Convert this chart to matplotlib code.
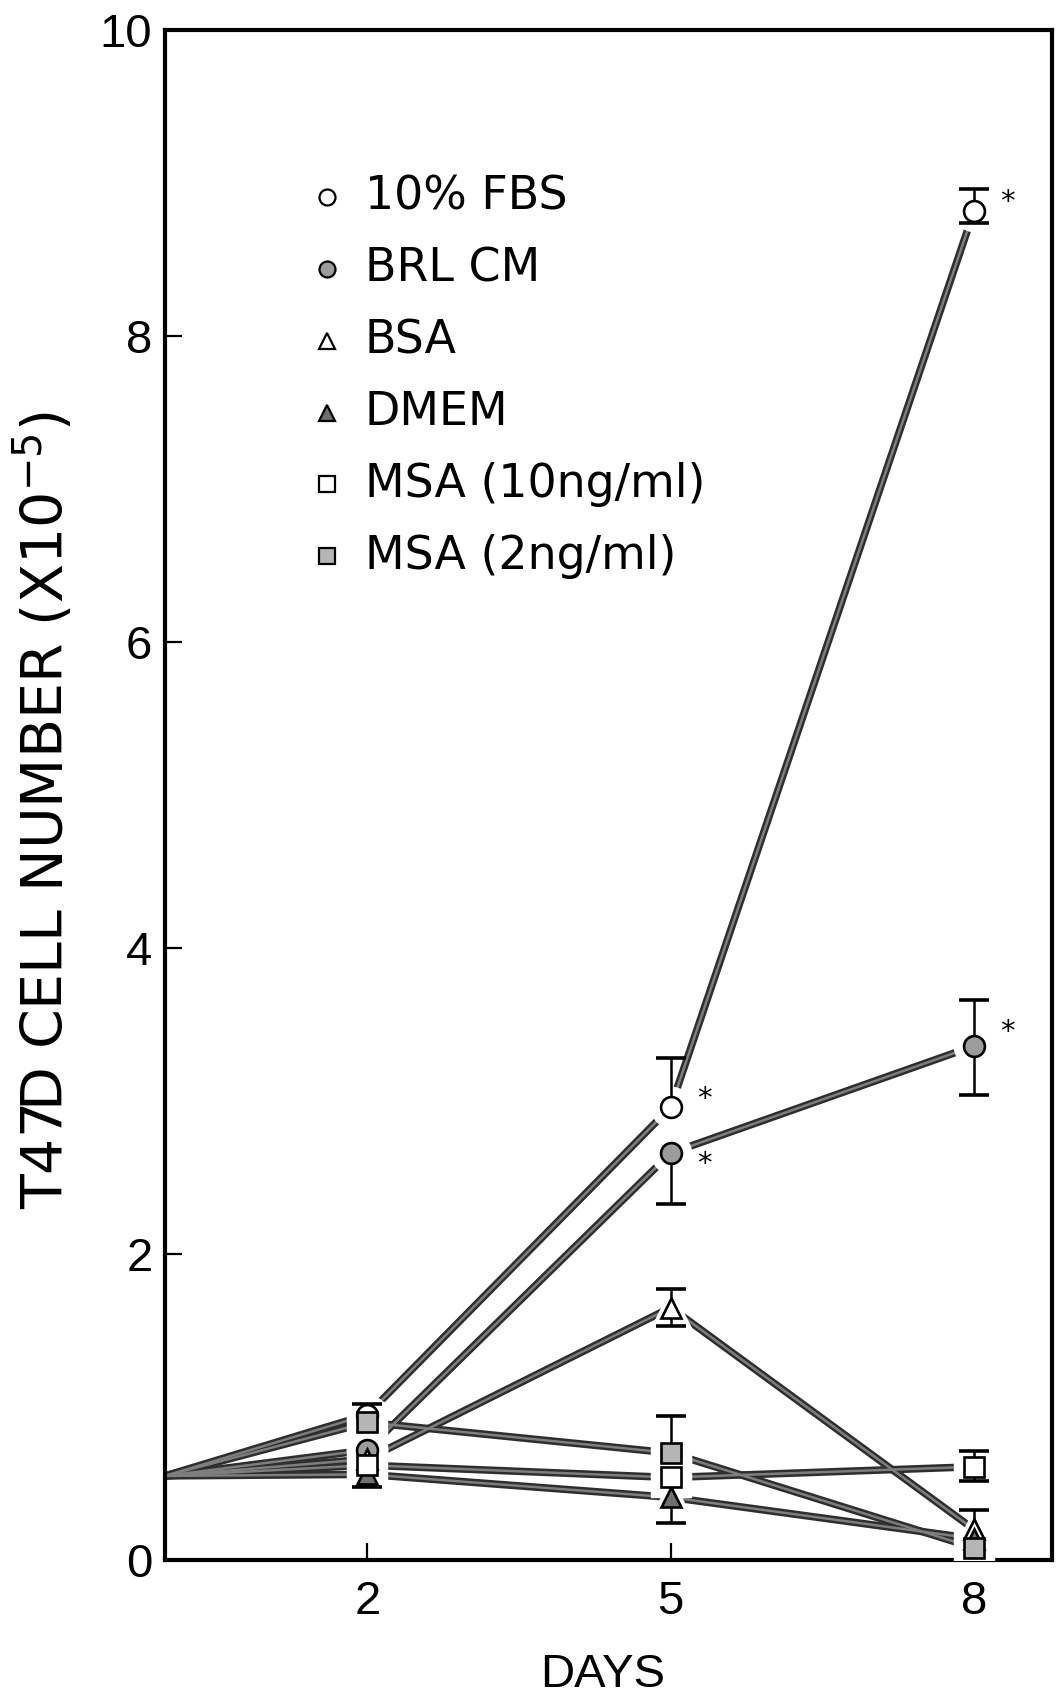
import numpy as np
import matplotlib
matplotlib.use("Agg")
import matplotlib.pyplot as plt

# ---- data: T47D cell number (x10^-5) over time -----------------------------
days = [2, 5, 8]
start_day = 0
start_count = 0.55          # common seeding density at day 0

labels = ["10% FBS", "BRL CM", "BSA", "DMEM", "MSA (10ng/ml)", "MSA (2ng/ml)"]

fbs   = [0.95, 2.96, 8.82]
brl   = [0.72, 2.66, 3.36]
bsa   = [0.66, 1.65, 0.20]
dmem  = [0.56, 0.41, 0.14]
msa10 = [0.62, 0.54, 0.61]
msa2  = [0.90, 0.70, 0.08]

# error bars drawn above (hi) and below (lo) each mean; 0 = not drawn
fbs_hi,   fbs_lo   = [0.07, 0.32, 0.14], [0.00, 0.00, 0.08]
brl_hi,   brl_lo   = [0.00, 0.00, 0.30], [0.00, 0.33, 0.32]
bsa_hi,   bsa_lo   = [0.00, 0.12, 0.13], [0.00, 0.12, 0.00]
dmem_hi,  dmem_lo  = [0.00, 0.00, 0.00], [0.08, 0.17, 0.00]
msa10_hi, msa10_lo = [0.00, 0.00, 0.10], [0.00, 0.00, 0.09]
msa2_hi,  msa2_lo  = [0.00, 0.24, 0.00], [0.00, 0.00, 0.00]

# significant differences (asterisks)
fbs_sig = [False, True, True]
brl_sig = [False, True, True]
no_sig = [False, False, False]

x_ticks = [2, 5, 8]
y_ticks = [0, 2, 4, 6, 8, 10]

# ---- styling ---------------------------------------------------------------
# vertical nudge (points) of each asterisk relative to its symbol
fbs_star_dy = [0, 6, 6]
brl_star_dy = [0, -8, 10]
no_star_dy = [0, 0, 0]

series = [
    (fbs,   fbs_hi,   fbs_lo,   fbs_sig, fbs_star_dy, "o", "white"),
    (brl,   brl_hi,   brl_lo,   brl_sig, brl_star_dy, "o", "#9c9c9c"),
    (bsa,   bsa_hi,   bsa_lo,   no_sig,  no_star_dy,  "^", "white"),
    (dmem,  dmem_hi,  dmem_lo,  no_sig,  no_star_dy,  "^", "#707070"),
    (msa10, msa10_hi, msa10_lo, no_sig,  no_star_dy,  "s", "white"),
    (msa2,  msa2_hi,  msa2_lo,  no_sig,  no_star_dy,  "s", "#b5b5b5"),
]

tick_font = "Liberation Sans"
text_font = "DejaVu Sans"

fig = plt.figure(figsize=(10.57, 16.95), dpi=100)
ax = fig.add_axes([0.1561, 0.0796, 0.8392, 0.9027])

MS = 15           # data marker size (pt)
HALO = MS + 14    # white gap around markers
x_all = np.array([start_day] + days, dtype=float)
x = np.array(days, dtype=float)

for vals, hi, lo, sig, sdy, mk, face in series:
    y = np.array(vals, dtype=float)
    y_line = np.concatenate([[start_count], y])
    # stippled connecting band
    ax.plot(x_all, y_line, color="#2e2e2e", lw=5.4, solid_capstyle="butt", zorder=2)
    ax.plot(x_all, y_line, color="#7e7e7e", lw=1.8, solid_capstyle="butt", zorder=2.1)
    # white halo so lines stop short of the symbols
    ax.plot(x, y, ls="none", marker=mk, ms=HALO, mfc="white", mec="white", zorder=3)

for vals, hi, lo, sig, sdy, mk, face in series:
    y = np.array(vals, dtype=float)
    hi = np.array(hi, dtype=float)
    lo = np.array(lo, dtype=float)
    for err, sign in ((hi, 1.0), (lo, -1.0)):
        m = err > 0
        if m.any():
            ends = y[m] + sign * err[m]
            ax.vlines(x[m], y[m], ends, color="black", lw=1.8, zorder=4)
            ax.plot(x[m], ends, ls="none", marker="_", ms=21, mew=2.6,
                    color="black", zorder=4)

for vals, hi, lo, sig, sdy, mk, face in series:
    y = np.array(vals, dtype=float)
    ax.plot(x, y, ls="none", marker=mk, ms=MS, mfc=face, mec="black",
            mew=1.9, zorder=5)
    for xi, yi, s, dy in zip(x, y, sig, sdy):
        if s:
            ax.annotate("*", (xi, yi), xytext=(19, dy), textcoords="offset points",
                        fontsize=21, ha="left", va="center", family=text_font,
                        zorder=6)

# ---- key -------------------------------------------------------------------
key_x, key_tx, key_y0, key_dy = 0.183, 0.225, 0.891, 0.047
for i, (lab, (vals, hi, lo, sig, sdy, mk, face)) in enumerate(zip(labels, series)):
    yy = key_y0 - i * key_dy
    ax.plot([key_x], [yy], transform=ax.transAxes, ls="none", marker=mk,
            ms=11.5, mfc=face, mec="black", mew=1.6, clip_on=False)
    ax.text(key_tx, yy, lab, transform=ax.transAxes, ha="left", va="center",
            fontsize=33, family=text_font)

# ---- axes ------------------------------------------------------------------
ax.set_xlim(0, 8.77)
ax.set_ylim(0, 10)
ax.set_xticks(x_ticks)
ax.set_yticks(y_ticks)
ax.set_xticklabels([str(t) for t in x_ticks], family=tick_font, fontsize=34)
ax.set_yticklabels([str(t) for t in y_ticks], family=tick_font, fontsize=34)
ax.tick_params(axis="both", direction="in", length=12, width=1.6)
ax.tick_params(axis="x", pad=14)
ax.tick_params(axis="y", pad=9)
for sp in ax.spines.values():
    sp.set_linewidth(3.0)
    sp.set_color("black")

ax.set_xlabel("DAYS", family=tick_font, fontsize=34)
ax.xaxis.set_label_coords(0.493, -0.061)
ax.set_ylabel(r"T47D CELL NUMBER (X10$^{-5}$)", family=text_font, fontsize=41)
ax.yaxis.set_label_coords(-0.1, 0.49)

fig.savefig("out.png", dpi=100)
